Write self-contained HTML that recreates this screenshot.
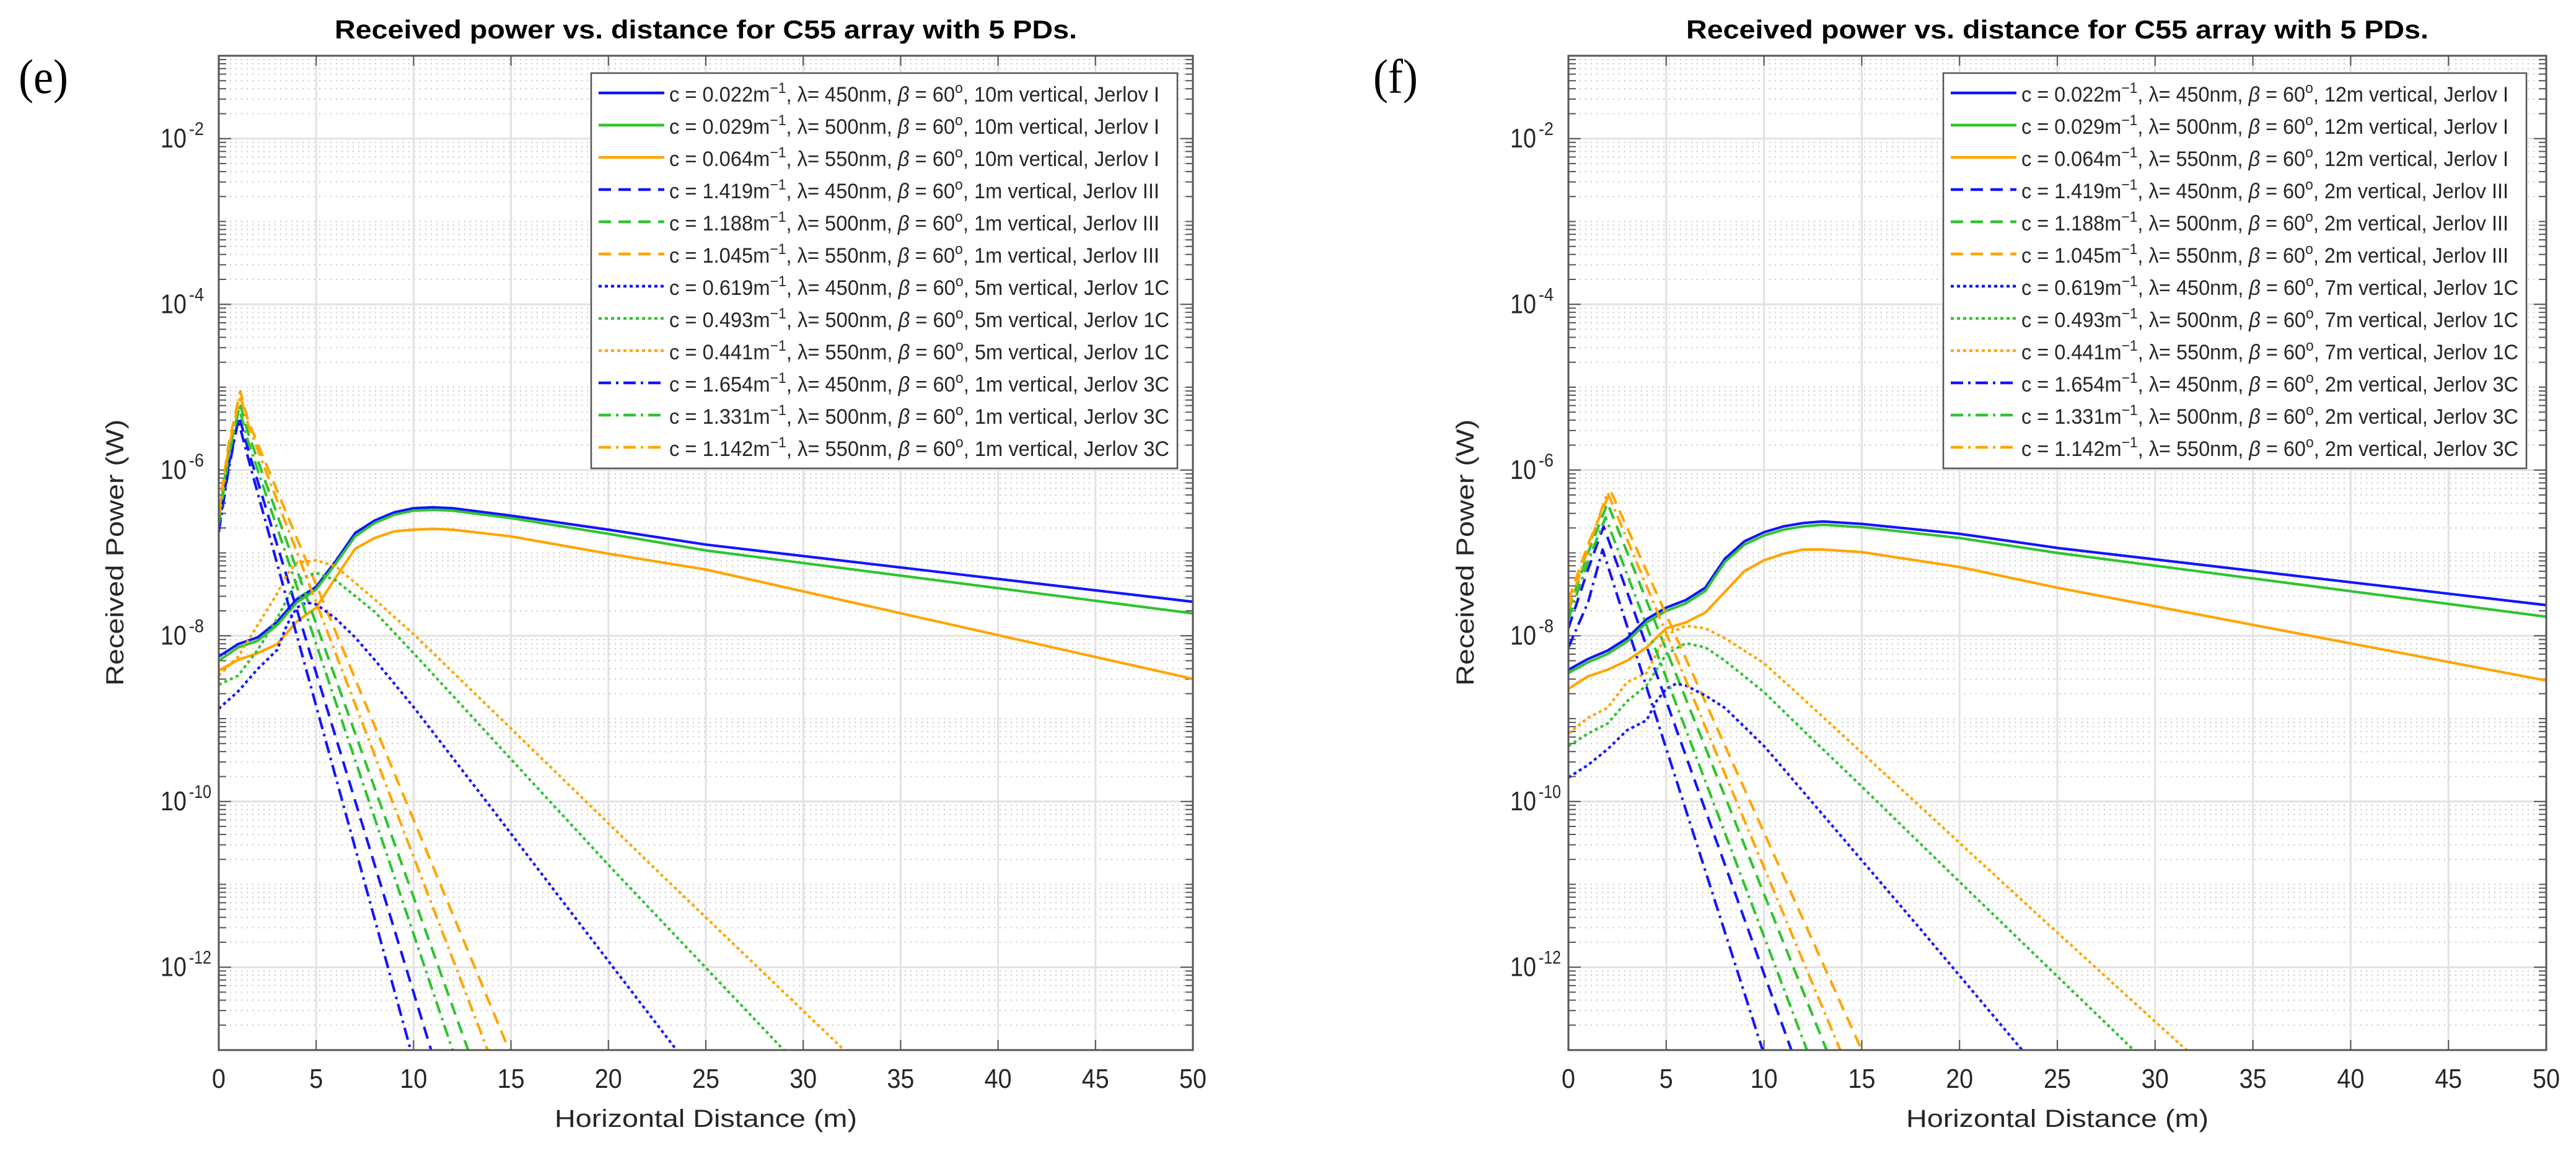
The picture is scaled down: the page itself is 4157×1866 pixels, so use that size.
<!DOCTYPE html>
<html><head><meta charset="utf-8"><title>Received power vs distance</title>
<style>
html,body{margin:0;padding:0;background:#fff;}
svg{display:block;}
text{font-family:"Liberation Sans",sans-serif;fill:#262626;}
</style></head>
<body>
<svg id="fig" width="4157" height="1866" viewBox="0 0 4157 1866" xmlns="http://www.w3.org/2000/svg">
<text x="70" y="150" text-anchor="middle" font-size="78" textLength="80" lengthAdjust="spacingAndGlyphs" style="fill:#000;font-family:'Liberation Serif',serif">(e)</text>
<text x="2252" y="150" text-anchor="middle" font-size="78" textLength="72" lengthAdjust="spacingAndGlyphs" style="fill:#000;font-family:'Liberation Serif',serif">(f)</text>
</svg>
<script>
// ---------- data (x in m, y as log10 of received power in W) ----------
const xTicks = [0,5,10,15,20,25,30,35,40,45,50];
const yTickExps = [-12,-10,-8,-6,-4,-2];
const colors = ['#1414ff','#2fc42f','#ffa500'];

// Panel (e)
const e_I450_x = [0,1,2,3,4,5,6,7,8,9,10,11,12,15,20,25,50];
const e_I450_y = [-8.25,-8.10,-8.02,-7.83,-7.56,-7.41,-7.10,-6.76,-6.61,-6.51,-6.46,-6.45,-6.46,-6.55,-6.72,-6.90,-7.59];
const e_I500_y = [-8.30,-8.14,-8.06,-7.87,-7.60,-7.44,-7.13,-6.80,-6.64,-6.54,-6.49,-6.48,-6.49,-6.58,-6.77,-6.97,-7.73];
const e_I550_y = [-8.42,-8.29,-8.21,-8.10,-7.83,-7.66,-7.30,-6.95,-6.82,-6.74,-6.72,-6.71,-6.72,-6.80,-7.01,-7.20,-8.52];
const e_III450_x = [0,0.5,1.05,1.5,10.9];   const e_III450_y = [-6.72,-5.95,-5.35,-5.75,-13];
const e_III500_x = [0,0.5,1.1,1.5,12.8];    const e_III500_y = [-6.60,-5.80,-5.20,-5.55,-13];
const e_III550_x = [0,0.5,1.1,1.5,14.9];    const e_III550_y = [-6.50,-5.70,-5.05,-5.40,-13];
const e_3C450_x = [0,0.5,1.0,1.5,9.85];     const e_3C450_y = [-6.75,-6.00,-5.40,-5.85,-13];
const e_3C500_x = [0,0.5,1.05,1.5,12.0];    const e_3C500_y = [-6.65,-5.85,-5.25,-5.65,-13];
const e_3C550_x = [0,0.5,1.1,1.5,13.8];     const e_3C550_y = [-6.55,-5.75,-5.10,-5.45,-13];
const e_1C450_x = [0,1,2,3,3.5,4,4.5,5,6,7,8,10,12,14,16.3,23.5];
const e_1C450_y = [-8.88,-8.67,-8.40,-8.17,-7.87,-7.66,-7.60,-7.62,-7.79,-8.02,-8.29,-8.86,-9.47,-10.08,-10.79,-13];
const e_1C500_x = [0,1,2,3,4,5,6,8,10,12,15,20.1,29.0];
const e_1C500_y = [-8.59,-8.48,-8.17,-7.79,-7.33,-7.24,-7.33,-7.71,-8.21,-8.72,-9.49,-10.79,-13];
const e_1C550_x = [0,1,2,3,3.5,4,5,6,8,10,15,22.3,32.1];
const e_1C550_y = [-8.48,-8.25,-7.87,-7.49,-7.26,-7.12,-7.09,-7.16,-7.56,-7.98,-9.12,-10.79,-13];

// Panel (f)
const f_I450_x = [0,1,2,3,4,5,6,7,8,9,10,11,12,13,15,20,25,50];
const f_I450_y = [-8.41,-8.28,-8.18,-8.03,-7.80,-7.66,-7.57,-7.42,-7.07,-6.86,-6.75,-6.68,-6.64,-6.62,-6.65,-6.77,-6.94,-7.63];
const f_I500_y = [-8.45,-8.32,-8.22,-8.07,-7.84,-7.70,-7.61,-7.46,-7.11,-6.90,-6.79,-6.72,-6.68,-6.66,-6.69,-6.82,-7.00,-7.77];
const f_I550_y = [-8.64,-8.49,-8.41,-8.30,-8.14,-7.91,-7.84,-7.72,-7.47,-7.22,-7.09,-7.01,-6.96,-6.96,-6.99,-7.17,-7.42,-8.54];
const f_III450_x = [0,1,1.8,11.4];   const f_III450_y = [-7.91,-7.20,-6.68,-13];
const f_III500_x = [0,1,2.0,13.2];   const f_III500_y = [-7.70,-7.00,-6.40,-13];
const f_III550_x = [0,1,2.15,15.0];  const f_III550_y = [-7.57,-6.90,-6.25,-13];
const f_3C450_x = [0,1,1.75,9.93];   const f_3C450_y = [-8.14,-7.60,-6.96,-13];
const f_3C500_x = [0,1,1.9,12.2];    const f_3C500_y = [-7.80,-7.10,-6.57,-13];
const f_3C550_x = [0,1,2.0,13.9];    const f_3C550_y = [-7.68,-6.95,-6.27,-13];
const f_1C450_x = [0,1,2,3,4,4.5,5,5.5,6,7,8,10,12,15,18,23.2];
const f_1C450_y = [-9.71,-9.56,-9.37,-9.14,-9.02,-8.79,-8.64,-8.58,-8.60,-8.72,-8.87,-9.33,-9.88,-10.71,-11.54,-13];
const f_1C500_x = [0,1,2,3,4,5,6,7,8,10,12,15,20,22.5,28.9];
const f_1C500_y = [-9.33,-9.18,-9.06,-8.79,-8.60,-8.22,-8.09,-8.14,-8.30,-8.68,-9.14,-9.82,-10.97,-11.54,-13];
const f_1C550_x = [0,1,2,3,4,5,6,7,8,10,12,15,20,24.8,31.6];
const f_1C550_y = [-9.18,-8.99,-8.87,-8.56,-8.45,-7.99,-7.88,-7.91,-8.03,-8.33,-8.76,-9.41,-10.50,-11.54,-13];

const e_cvals = ['0.022','0.029','0.064','1.419','1.188','1.045','0.619','0.493','0.441','1.654','1.331','1.142'];
const f_cvals = e_cvals;
const lambdas = ['450','500','550','450','500','550','450','500','550','450','500','550'];
const e_depths = ['10m','10m','10m','1m','1m','1m','5m','5m','5m','1m','1m','1m'];
const f_depths = ['12m','12m','12m','2m','2m','2m','7m','7m','7m','2m','2m','2m'];
const types = ['I','I','I','III','III','III','1C','1C','1C','3C','3C','3C'];

// ---------- rendering ----------
const NS = 'http://www.w3.org/2000/svg';
const svg = document.getElementById('fig');
const Y_TOP = 90, Y_BOT = 1695, EXP_TOP = -1, EXP_BOT = -13;
function mk(tag, attrs, parent){
  const el = document.createElementNS(NS, tag);
  for (const k in attrs) el.setAttribute(k, attrs[k]);
  (parent||svg).appendChild(el);
  return el;
}
const dashes = {solid:'', dashed:'20 12', dotted:'5 5', dashdot:'20 8 4 8'};
const styleOf = ['solid','solid','solid','dashed','dashed','dashed','dotted','dotted','dotted','dashdot','dashdot','dashdot'];

function panel(id, X0, X1, seriesX, seriesY, cvals, depths, legL, legR, ylabX){
  const sx = v => X0 + (v/50)*(X1-X0);
  const sy = e => Y_TOP + (EXP_TOP - e)/(EXP_TOP-EXP_BOT)*(Y_BOT-Y_TOP);
  const g = mk('g', {});
  
  
  for (let d=-13; d<-1; d++){
    for (let k=2;k<=9;k++){
      const e = d+Math.log10(k);
      const y = sy(e);
      const ln = mk('line',{x1:X0,x2:X1,y1:y,y2:y,stroke:'#c8c8c8','stroke-width':2,'stroke-dasharray':'2 7'},g);
      
      
      mk('line',{x1:X0,x2:X0+12,y1:y,y2:y,stroke:'#555','stroke-width':2},g);
      mk('line',{x1:X1,x2:X1-12,y1:y,y2:y,stroke:'#555','stroke-width':2},g);
    }
  }
  for (let d=-12; d<=-2; d++){
    const y = sy(d);
    const major = yTickExps.indexOf(d)>=0;
    const ln = mk('line',{x1:X0,x2:X1,y1:y,y2:y,stroke: major?'#e2e2e2':'#c8c8c8','stroke-width':major?3:2,'stroke-dasharray':major?'':'2 7'},g);
    
    
    const tl = major?20:12;
    mk('line',{x1:X0,x2:X0+tl,y1:y,y2:y,stroke:'#555','stroke-width':2},g);
    mk('line',{x1:X1,x2:X1-tl,y1:y,y2:y,stroke:'#555','stroke-width':2},g);
  }
  xTicks.forEach(v=>{
    const x = sx(v);
    const ln = mk('line',{x1:x,x2:x,y1:Y_TOP,y2:Y_BOT,stroke:'#e2e2e2','stroke-width':3},g);
    
    
    mk('line',{x1:x,x2:x,y1:Y_BOT,y2:Y_BOT-16,stroke:'#555','stroke-width':2},g);
    mk('line',{x1:x,x2:x,y1:Y_TOP,y2:Y_TOP+16,stroke:'#555','stroke-width':2},g);
    const t = mk('text',{x:x,y:1756,'text-anchor':'middle','font-size':44},g);
    t.textContent = String(v);
    t.setAttribute('textLength', String(v).length*22);
    t.setAttribute('lengthAdjust','spacingAndGlyphs');
    
    
  });
  yTickExps.forEach(d=>{
    const y = sy(d);
    const t = mk('text',{x:X0-52,y:y+14,'text-anchor':'end','font-size':44},g);
    
    
    t.setAttribute('textLength', 42);
    t.setAttribute('lengthAdjust','spacingAndGlyphs');
    t.textContent = '10';
    const s = mk('text',{x:X0-48,y:y-6,'text-anchor':'start','font-size':30},g);
    
    
    s.setAttribute('textLength', d<=-10?36:24);
    s.setAttribute('lengthAdjust','spacingAndGlyphs');
    s.textContent = String(d);
  });
  const cp = mk('clipPath',{id:'clip-'+id},g);
  mk('rect',{x:X0,y:Y_TOP,width:X1-X0,height:Y_BOT-Y_TOP},cp);
  const sg = mk('g',{'clip-path':'url(#clip-'+id+')'},g);
  for (let i=0;i<12;i++){
    const xs = seriesX[i], ys = seriesY[i];
    const pts = xs.map((v,j)=>sx(v).toFixed(1)+','+sy(ys[j]).toFixed(1)).join(' ');
    const pl = mk('polyline',{points:pts,fill:'none',stroke:colors[i%3],'stroke-width':4.2,'stroke-linejoin':'round'},sg);
    if (dashes[styleOf[i]]) pl.setAttribute('stroke-dasharray', dashes[styleOf[i]]);
    
    
  }
  const box = mk('rect',{x:X0,y:Y_TOP,width:X1-X0,height:Y_BOT-Y_TOP,fill:'none',stroke:'#555','stroke-width':3},g);
  
  
  const ti = mk('text',{x:(X0+X1)/2,y:62,'text-anchor':'middle','font-size':42,'font-weight':'bold'},g);
  ti.textContent = 'Received power vs. distance for C55 array with 5 PDs.';
  ti.setAttribute('textLength', 1198);
  ti.setAttribute('lengthAdjust','spacingAndGlyphs');
  ti.setAttribute('style','fill:#000');
  
  
  const xl = mk('text',{x:(X0+X1)/2,y:1819,'text-anchor':'middle','font-size':40},g);
  xl.textContent = 'Horizontal Distance (m)';
  xl.setAttribute('textLength', 488);
  xl.setAttribute('lengthAdjust','spacingAndGlyphs');
  
  
  const yl = mk('text',{x:0,y:0,'text-anchor':'middle','font-size':40,transform:'translate('+ylabX+',892) rotate(-90)'},g);
  yl.textContent = 'Received Power (W)';
  yl.setAttribute('textLength', 430);
  yl.setAttribute('lengthAdjust','spacingAndGlyphs');
  
  
  const lg = mk('g',{},g);
  
  
  mk('rect',{x:legL,y:118,width:legR-legL,height:638,fill:'#fff',stroke:'#555','stroke-width':2.5},lg);
  for (let i=0;i<12;i++){
    const y = 150 + i*52;
    const ent = mk('g',{},lg);
    
    
    const ln = mk('line',{x1:legL+12,x2:legL+118,y1:y,y2:y,stroke:colors[i%3],'stroke-width':4.5},ent);
    if (dashes[styleOf[i]]) ln.setAttribute('stroke-dasharray', dashes[styleOf[i]]);
    const t = mk('text',{x:legL+126,y:y+14,'font-size':34},ent);
    const wide = (types[i]==='1C'||types[i]==='3C');
    t.setAttribute('textLength', wide ? (legR-legL-139) : (legR-legL-155));
    t.setAttribute('lengthAdjust','spacingAndGlyphs');
    const parts = [
      ['c = '+cvals[i]+'m',0,34,''],
      ['\u22121',-14,24,''],
      [', \u03bb= '+lambdas[i]+'nm, ',14,34,''],
      ['\u03b2',0,34,'italic'],
      [' = 60',0,34,''],
      ['o',-14,24,''],
      [', '+depths[i]+' vertical, Jerlov '+types[i],14,34,'']
    ];
    parts.forEach(p=>{
      const ts = mk('tspan',{dy:p[1],'font-size':p[2]},t);
      if (p[3]) ts.setAttribute('font-style',p[3]);
      ts.textContent = p[0];
    });
  }
}

panel('panel-e', 353, 1925,
  [e_I450_x,e_I450_x,e_I450_x,e_III450_x,e_III500_x,e_III550_x,e_1C450_x,e_1C500_x,e_1C550_x,e_3C450_x,e_3C500_x,e_3C550_x],
  [e_I450_y,e_I500_y,e_I550_y,e_III450_y,e_III500_y,e_III550_y,e_1C450_y,e_1C500_y,e_1C550_y,e_3C450_y,e_3C500_y,e_3C550_y],
  e_cvals, e_depths, 954, 1900, 199);
panel('panel-f', 2531, 4109,
  [f_I450_x,f_I450_x,f_I450_x,f_III450_x,f_III500_x,f_III550_x,f_1C450_x,f_1C500_x,f_1C550_x,f_3C450_x,f_3C500_x,f_3C550_x],
  [f_I450_y,f_I500_y,f_I550_y,f_III450_y,f_III500_y,f_III550_y,f_1C450_y,f_1C500_y,f_1C550_y,f_3C450_y,f_3C500_y,f_3C550_y],
  f_cvals, f_depths, 3136, 4077, 2378);
</script>
</body></html>
